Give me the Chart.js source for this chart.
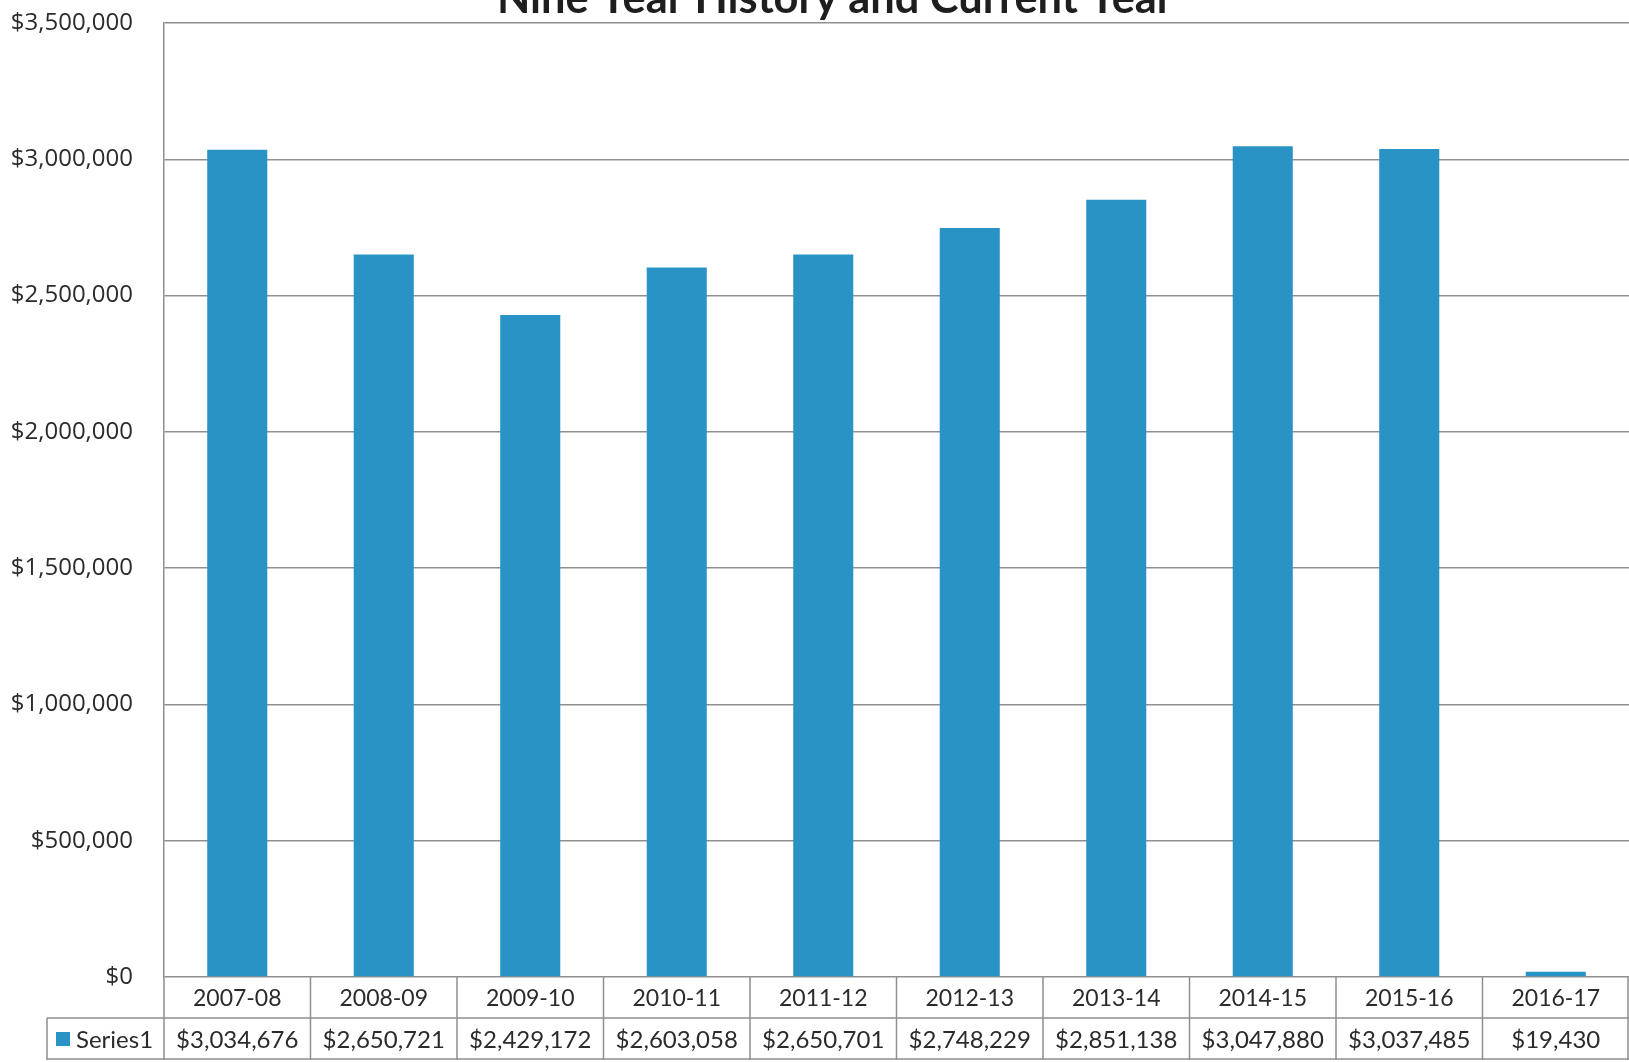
<!DOCTYPE html>
<html>
<head>
<meta charset="utf-8">
<script src="https://cdn.jsdelivr.net/npm/chart.js@4.4.1/dist/chart.umd.min.js"></script>
<style>
  html, body { margin: 0; padding: 0; background: #fff; overflow: hidden; }
  #wrap { width: 1629px; height: 1062px; position: relative; }
</style>
</head>
<body>
<div id="wrap"><canvas id="historyChart"></canvas></div>
<script>
// data
const categories = ['2007-08', '2008-09', '2009-10', '2010-11', '2011-12', '2012-13', '2013-14', '2014-15', '2015-16', '2016-17'];
const series1 = [3034676, 2650721, 2429172, 2603058, 2650701, 2748229, 2851138, 3047880, 3037485, 19430];
const seriesName = 'Series1';
const yTicks = [0, 500000, 1000000, 1500000, 2000000, 2500000, 3000000, 3500000];
const chartTitle = 'Nine Year History and Current Year';

const barColor = '#2A93C6';
const lineColor = '#8f8f8f';
const textColor = '#2b2b2b';

const money = v => '$' + v.toLocaleString('en-US');

// title is cut off by the top edge in the original, so draw it partly off canvas
const titlePlugin = {
    id: 'cutTitle',
    afterDraw(chart) {
        const ctx = chart.ctx;
        ctx.save();
        ctx.font = "bold 40px Lato, sans-serif";
        const w = ctx.measureText(chartTitle).width;
        const size = 40 * 677 / w;
        ctx.font = "bold " + size.toFixed(1) + "px Lato, sans-serif";
        ctx.fillStyle = '#1e1e1e';
        ctx.textAlign = 'center';
        ctx.textBaseline = 'alphabetic';
        ctx.fillText(chartTitle, 835, 13);
        ctx.restore();
    }
};

// Excel style data table under the plot
const dataTablePlugin = {
    id: 'dataTable',
    afterDraw(chart) {
        const ctx = chart.ctx;
        const area = chart.chartArea;
        const xs = chart.scales.x;
        const n = categories.length;
        const colW = (area.right - area.left) / n;
        const y0 = area.bottom;
        const y1 = y0 + 41;
        const y2 = y1 + 42;
        const legendLeft = 47;

        ctx.save();
        ctx.strokeStyle = lineColor;
        ctx.lineWidth = 1.5;
        ctx.beginPath();
        for (let k = 0; k <= n; k++) {
            let x = Math.min(area.left + k * colW, chart.width - 1);
            ctx.moveTo(x, y0);
            ctx.lineTo(x, y2);
        }
        ctx.moveTo(legendLeft, y1);
        ctx.lineTo(area.right, y1);
        ctx.moveTo(legendLeft, y2 - 1);
        ctx.lineTo(area.right, y2 - 1);
        ctx.moveTo(legendLeft, y1);
        ctx.lineTo(legendLeft, y2);
        ctx.stroke();

        ctx.fillStyle = textColor;
        ctx.textAlign = 'center';
        ctx.textBaseline = 'middle';
        ctx.font = "23px Lato, sans-serif";
        categories.forEach((c, i) => {
            ctx.fillText(c, xs.getPixelForValue(i), (y0 + y1) / 2 + 1);
        });
        ctx.font = "24px Lato, sans-serif";
        series1.forEach((v, i) => {
            ctx.fillText(money(v), xs.getPixelForValue(i), (y1 + y2) / 2 + 1);
        });

        // legend key
        ctx.fillStyle = barColor;
        ctx.fillRect(56, (y1 + y2) / 2 - 7, 14, 14);
        ctx.fillStyle = textColor;
        ctx.textAlign = 'left';
        ctx.font = "24px Lato, sans-serif";
        ctx.fillText(seriesName, 76, (y1 + y2) / 2 + 1);
        ctx.restore();
    }
};

const ctxEl = document.getElementById('historyChart');
new Chart(ctxEl, {
    type: 'bar',
    data: {
        labels: categories,
        datasets: [{
            label: seriesName,
            data: series1,
            backgroundColor: barColor,
            borderWidth: 0,
            categoryPercentage: 1.0,
            barPercentage: 0.41
        }]
    },
    options: {
        responsive: true,
        maintainAspectRatio: false,
        animation: false,
        layout: { padding: { top: 23, bottom: 85, left: 0, right: 0 } },
        plugins: {
            legend: { display: false },
            title: { display: false },
            tooltip: { enabled: false }
        },
        scales: {
            x: {
                display: false
            },
            y: {
                min: 0,
                max: 3500000,
                afterBuildTicks: axis => { axis.ticks = yTicks.map(v => ({ value: v })); },
                afterFit: axis => {
                    axis.width = 164;
                    axis.paddingTop = 0;
                    axis.paddingBottom = 0;
                },
                grid: { color: lineColor, lineWidth: 1.5, drawTicks: false },
                border: { display: true, color: lineColor, width: 1.5 },
                ticks: {
                    padding: 31,
                    color: textColor,
                    font: { family: "'Open Sans', sans-serif", size: 24 },
                    callback: v => money(v)
                }
            }
        }
    },
    plugins: [titlePlugin, dataTablePlugin]
});
</script>
</body>
</html>
